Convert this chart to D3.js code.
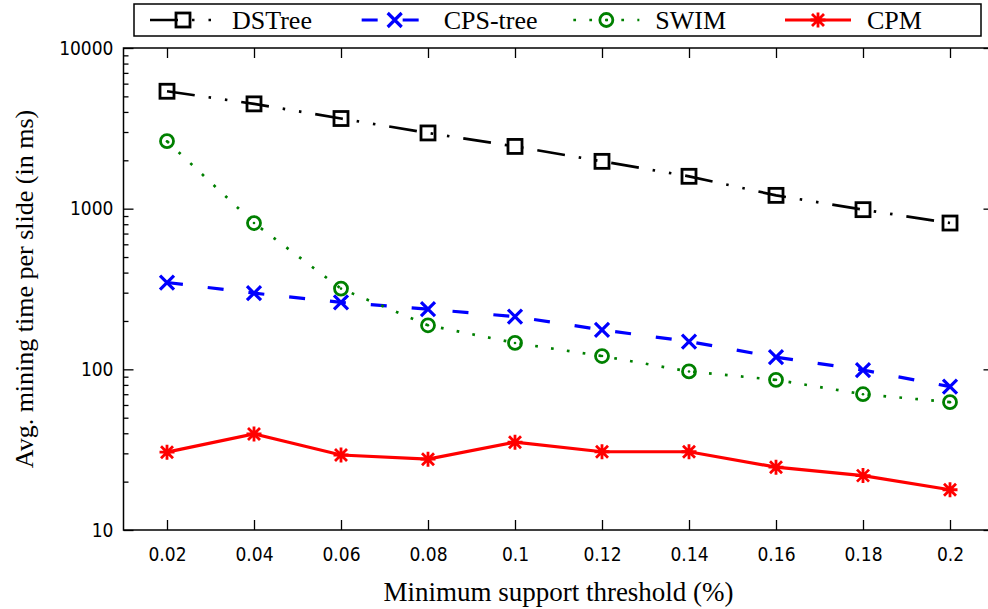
<!DOCTYPE html>
<html>
<head>
<meta charset="utf-8">
<script src="https://cdn.jsdelivr.net/npm/d3@7"></script>
<style>
  body { margin: 0; background: #fff; }
  .tick-label { font-family: "DejaVu Sans Condensed", "DejaVu Sans", sans-serif; font-stretch: condensed; font-size: 19px; fill: #000; }
  .serif { font-family: "Liberation Serif", "Times New Roman", serif; fill: #000; }
</style>
</head>
<body>
<div id="vis-container"></div>
<script>
// values
const thresholds = [0.02, 0.04, 0.06, 0.08, 0.1, 0.12, 0.14, 0.16, 0.18, 0.2];
const dstree  = [5380, 4490, 3640, 2960, 2440, 1970, 1590, 1210, 986, 814];
const cpsTree = [347, 298, 261, 237, 213, 176, 149, 119, 99, 78];
const swim    = [2630, 814, 318, 188, 146, 121, 97, 86, 70, 62.5];
const cpm     = [30.5, 39.6, 29.3, 27.6, 35.2, 30.7, 30.7, 24.6, 21.8, 17.8];
const seriesNames = ["DSTree", "CPS-tree", "SWIM", "CPM"];
const yMajor = [10, 100, 1000, 10000];

const width = 988;
const height = 609;
const margin = { top: 48, right: -5.5, bottom: 79, left: 123.5 };

const svg = d3.select("#vis-container")
              .append("svg")
              .attr("width", width)
              .attr("height", height)
              .style("display", "block");

const x = d3.scaleLinear()
            .domain([0.01, 0.21])
            .range([margin.left, width - margin.right]);

const y = d3.scaleLog()
            .domain([10, 10000])
            .range([height - margin.bottom, margin.top]);

const series = [
  { name: seriesNames[0], values: dstree,  color: "#000000", width: 2.7, dash: "28,14,2.5,14,2.5,14", marker: "square" },
  { name: seriesNames[1], values: cpsTree, color: "#0000ff", width: 3.2, dash: "16,25",               marker: "cross" },
  { name: seriesNames[2], values: swim,    color: "#008000", width: 2.7, dash: "2.7,13.3",            marker: "circle" },
  { name: seriesNames[3], values: cpm,     color: "#ff0000", width: 3.2, dash: null,                  marker: "star" }
];

// marker shapes
function drawMarker(g, type, color) {
  if (type === "square") {
    g.append("rect").attr("x", -7).attr("y", -7).attr("width", 14).attr("height", 14)
      .attr("fill", "none").attr("stroke", color).attr("stroke-width", 2.8);
  } else if (type === "cross") {
    g.append("path").attr("d", "M-7,-7L7,7M-7,7L7,-7")
      .attr("fill", "none").attr("stroke", color).attr("stroke-width", 3.2);
  } else if (type === "circle") {
    g.append("circle").attr("r", 6.5)
      .attr("fill", "none").attr("stroke", color).attr("stroke-width", 2.8);
    g.append("circle").attr("r", 1.3).attr("fill", color);
  } else if (type === "star") {
    g.append("path").attr("d", "M-6,-6L6,6M-6,6L6,-6M0,-7.5L0,7.5M-7.5,0L7.5,0")
      .attr("fill", "none").attr("stroke", color).attr("stroke-width", 2.8);
  }
}

// axes (ticks point inward)
const yMinor = y.ticks().filter(v => !yMajor.includes(v));

svg.append("g")
   .attr("transform", `translate(${margin.left},0)`)
   .call(d3.axisLeft(y).tickValues(yMajor).tickSize(-10).tickPadding(10).tickFormat(d => d))
   .call(g => g.select(".domain").remove())
   .call(g => g.selectAll("text").attr("class", "tick-label").attr("font-family", null).attr("font-size", null));

svg.append("g")
   .attr("transform", `translate(${margin.left},0)`)
   .call(d3.axisLeft(y).tickValues(yMinor).tickSize(-5).tickFormat(""))
   .call(g => g.select(".domain").remove());

svg.append("g")
   .attr("transform", `translate(${width - margin.right},0)`)
   .call(d3.axisRight(y).tickValues(yMajor).tickSize(-10).tickFormat(""))
   .call(g => g.select(".domain").remove());

svg.append("g")
   .attr("transform", `translate(${width - margin.right},0)`)
   .call(d3.axisRight(y).tickValues(yMinor).tickSize(-5).tickFormat(""))
   .call(g => g.select(".domain").remove());

svg.append("g")
   .attr("transform", `translate(0,${height - margin.bottom})`)
   .call(d3.axisBottom(x).tickValues(thresholds).tickSize(-10).tickPadding(18).tickFormat(d => d))
   .call(g => g.select(".domain").remove())
   .call(g => g.selectAll("text").attr("class", "tick-label").attr("font-family", null).attr("font-size", null));

svg.append("g")
   .attr("transform", `translate(0,${margin.top})`)
   .call(d3.axisTop(x).tickValues(thresholds).tickSize(-10).tickFormat(""))
   .call(g => g.select(".domain").remove());

svg.selectAll(".tick line").attr("stroke", "#000").attr("stroke-width", 1.3);

// frame
svg.append("rect")
   .attr("x", margin.left)
   .attr("y", margin.top)
   .attr("width", width - margin.right - margin.left)
   .attr("height", height - margin.bottom - margin.top)
   .attr("fill", "none")
   .attr("stroke", "#000")
   .attr("stroke-width", 1.5);

// axis titles
svg.append("text")
   .attr("class", "serif")
   .attr("x", (margin.left + width - margin.right) / 2)
   .attr("y", 601)
   .attr("text-anchor", "middle")
   .attr("font-size", "27px")
   .text("Minimum support threshold (%)");

svg.append("text")
   .attr("class", "serif")
   .attr("transform", `translate(33,${(margin.top + height - margin.bottom) / 2}) rotate(-90)`)
   .attr("text-anchor", "middle")
   .attr("font-size", "26px")
   .text("Avg. mining time per slide (in ms)");

// lines and markers
const line = d3.line()
               .x((d, i) => x(thresholds[i]))
               .y(d => y(d));

series.forEach(s => {
  svg.append("path")
     .datum(s.values)
     .attr("d", line)
     .attr("fill", "none")
     .attr("stroke", s.color)
     .attr("stroke-width", s.width)
     .attr("stroke-dasharray", s.dash);

  s.values.forEach((v, i) => {
    const g = svg.append("g").attr("transform", `translate(${x(thresholds[i])},${y(v)})`);
    drawMarker(g, s.marker, s.color);
  });
});

// legend
const legend = svg.append("g");
legend.append("rect")
      .attr("x", 134).attr("y", 4)
      .attr("width", 847).attr("height", 32)
      .attr("fill", "#fff")
      .attr("stroke", "#000")
      .attr("stroke-width", 1.5);

const legendX = d3.scalePoint()
                  .domain(seriesNames)
                  .range([150, 785]);

series.forEach(s => {
  const x0 = legendX(s.name);
  legend.append("line")
        .attr("x1", x0).attr("x2", x0 + 66)
        .attr("y1", 20).attr("y2", 20)
        .attr("stroke", s.color)
        .attr("stroke-width", s.width)
        .attr("stroke-dasharray", s.dash);
  const g = legend.append("g").attr("transform", `translate(${x0 + 33},20)`);
  drawMarker(g, s.marker, s.color);
  legend.append("text")
        .attr("class", "serif")
        .attr("x", x0 + 82)
        .attr("y", 29)
        .attr("font-size", "26px")
        .text(s.name);
});
</script>
</body>
</html>
